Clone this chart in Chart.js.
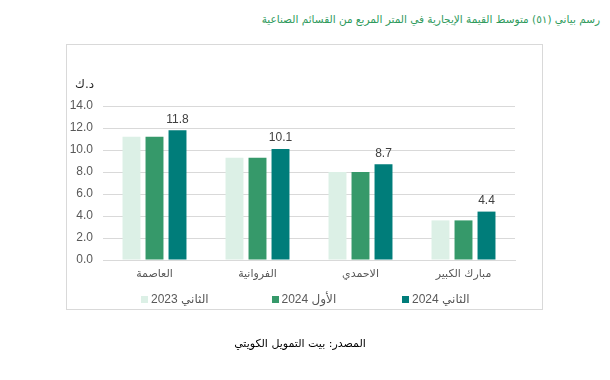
<!DOCTYPE html>
<html><head><meta charset="utf-8">
<script src="https://cdn.jsdelivr.net/npm/chart.js@4/dist/chart.umd.min.js"></script>
<style>
html,body{margin:0;padding:0;width:610px;height:380px;background:#fff;overflow:hidden;}
#title{position:absolute;right:10px;top:13px;direction:rtl;color:#2e9a5c;font:10.5px "DejaVu Sans",sans-serif;white-space:nowrap;}
#frame{position:absolute;left:66px;top:44px;width:475px;height:264px;border:1px solid #d9d9d9;}
#c{position:absolute;left:0;top:0;}
#legend{position:absolute;left:141px;top:292px;height:14px;font:12px "Liberation Sans","DejaVu Sans",sans-serif;color:#595959;}
.li{position:absolute;top:0;white-space:nowrap;display:flex;align-items:center;}
.li i{display:inline-block;width:7px;height:7px;margin-right:3px;}
#source{position:absolute;left:0;width:600px;top:337px;text-align:center;direction:rtl;font:11px "DejaVu Sans",sans-serif;color:#000;}
#unit{position:absolute;left:75px;top:77px;font:12px "DejaVu Sans",sans-serif;color:#262626;}
</style></head>
<body>
<div id="title">رسم بياني (٥١) متوسط القيمة الإيجارية في المتر المربع من القسائم الصناعية</div>
<div id="frame"></div>
<canvas id="c" width="610" height="380"></canvas>
<div id="unit">د.ك</div>
<div id="legend"></div>
<div id="source">المصدر: بيت التمويل الكويتي</div>
<script>
const categories = ["العاصمة", "الفروانية", "الاحمدي", "مبارك الكبير"];
const seriesNames = ["الثاني 2023", "الأول 2024", "الثاني 2024"];
const q2_2023 = [11.2, 9.3, 8.0, 3.6];
const q1_2024 = [11.2, 9.3, 8.0, 3.6];
const q2_2024 = [11.8, 10.1, 8.7, 4.4];
const yTicks = [0, 2, 4, 6, 8, 10, 12, 14];
const colors = ["#dcf0e6", "#36996a", "#007d7a"];

const labelPlugin = {
  id: 'valLabels',
  afterDatasetsDraw(chart) {
    const ctx = chart.ctx;
    const meta = chart.getDatasetMeta(2);
    ctx.save();
    ctx.font = '12px "Liberation Sans", sans-serif';
    ctx.fillStyle = '#404040';
    ctx.textAlign = 'center';
    ctx.textBaseline = 'bottom';
    meta.data.forEach((bar, i) => {
      ctx.fillText(q2_2024[i].toFixed(1), bar.x, bar.y - 5);
    });
    ctx.restore();
  }
};

const chart = new Chart(document.getElementById('c'), {
  type: 'bar',
  data: {
    labels: categories,
    datasets: [
      {label: seriesNames[0], data: q2_2023, backgroundColor: colors[0]},
      {label: seriesNames[1], data: q1_2024, backgroundColor: colors[1]},
      {label: seriesNames[2], data: q2_2024, backgroundColor: colors[2]}
    ]
  },
  options: {
    responsive: false,
    animation: false,
    devicePixelRatio: 1,
    layout: {padding: {left: 66, right: 95, top: 106, bottom: 100}},
    datasets: {bar: {categoryPercentage: 0.67, barPercentage: 0.78}},
    plugins: {legend: {display: false}, tooltip: {enabled: false}},
    scales: {
      x: {
        grid: {display: false, drawTicks: false},
        border: {color: '#d9d9d9'},
        ticks: {font: {size: 11, family: '"DejaVu Sans", sans-serif'}, color: '#595959', padding: 8},
        afterFit(s) { s.height = 20; }
      },
      y: {
        min: 0, max: 14,
        afterBuildTicks(s) { s.ticks = yTicks.map(v => ({value: v})); },
        grid: {color: '#d9d9d9', drawTicks: false},
        border: {display: false},
        ticks: {font: {size: 12, family: '"Liberation Sans", sans-serif'}, color: '#595959', padding: 10,
                callback: v => Number(v).toFixed(1)},
        afterFit(s) { s.width = 37; }
      }
    }
  },
  plugins: [labelPlugin]
});

const leg = document.getElementById('legend');
seriesNames.forEach((n, i) => {
  const d = document.createElement('div');
  d.className = 'li';
  d.style.left = (i * 130.5) + 'px';
  d.innerHTML = '<i style="background:' + colors[i] + '"></i><span>' + n + '</span>';
  leg.appendChild(d);
});
</script>
</body></html>
